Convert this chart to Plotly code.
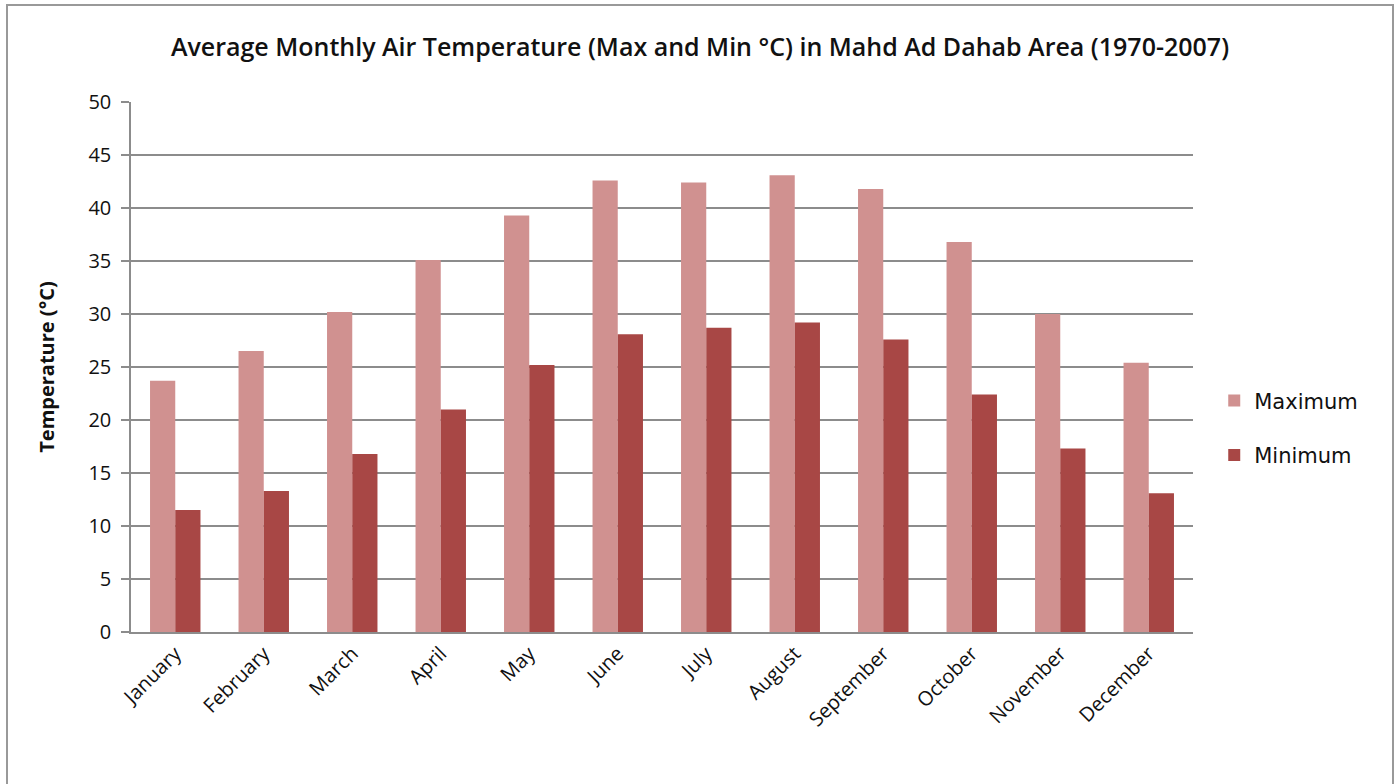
import plotly.graph_objects as go

months = ["January", "February", "March", "April", "May", "June",
          "July", "August", "September", "October", "November", "December"]
max_temp = [23.7, 26.5, 30.2, 35.1, 39.3, 42.6, 42.4, 43.1, 41.8, 36.8, 30.0, 25.4]
min_temp = [11.5, 13.3, 16.8, 21.0, 25.2, 28.1, 28.7, 29.2, 27.6, 22.4, 17.3, 13.1]
y_ticks = [0, 5, 10, 15, 20, 25, 30, 35, 40, 45, 50]

MAX_COLOR = "#D09190"
MIN_COLOR = "#A84745"
FONT = "Open Sans"

fig = go.Figure()
fig.add_trace(go.Bar(name="Maximum", x=months, y=max_temp, marker_color=MAX_COLOR,
                     marker_line_width=0, legendgroup="max"))
fig.add_trace(go.Bar(name="Minimum", x=months, y=min_temp, marker_color=MIN_COLOR,
                     marker_line_width=0, legendgroup="min"))

fig.update_layout(
    width=1400, height=784,
    barmode="group", bargap=0.43, bargroupgap=0,
    paper_bgcolor="white", plot_bgcolor="white",
    margin=dict(l=131, r=207, t=102, b=152),
    title=dict(
        text="Average Monthly Air Temperature (Max and Min °C) in Mahd Ad Dahab Area (1970-2007)",
        x=0.5, xanchor="center", y=0.94, yanchor="middle",
        font=dict(family=FONT, size=25, weight=600, color="#111111"),
    ),
    font=dict(family=FONT, color="#111111"),
    legend=dict(
        x=1.02, y=0.385, xanchor="left", yanchor="middle",
        font=dict(family="DejaVu Sans", size=21, color="#111111"),
        tracegroupgap=24, itemsizing="constant",
        traceorder="grouped",
    ),
    showlegend=True,
)

fig.update_xaxes(
    type="category", tickangle=-45,
    tickfont=dict(family=FONT, size=20, color="#111111"),
    showline=True, linecolor="#8C8C8C", linewidth=2,
    ticks="", showgrid=False,
)
fig.update_yaxes(
    range=[0, 50], tickvals=y_ticks,
    tickfont=dict(family=FONT, size=20, color="#111111"),
    ticklabelstandoff=6,
    showline=True, linecolor="#8C8C8C", linewidth=1.5,
    ticks="outside", ticklen=8, tickcolor="#8C8C8C", tickwidth=1.5,
    showgrid=True, gridcolor="#8C8C8C", gridwidth=1.5,
    zeroline=False,
    title=dict(text="<b>Temperature (°C)</b>", font=dict(family=FONT, size=20, color="#111111"),
               standoff=28),
)

# outer frame around the chart
fig.add_shape(type="rect", xref="paper", yref="paper",
              x0=-124 / 1062, x1=1262 / 1062, y0=-155 / 530, y1=627 / 530,
              line=dict(color="#999999", width=2), fillcolor="rgba(0,0,0,0)")

fig.write_html("out.html")
